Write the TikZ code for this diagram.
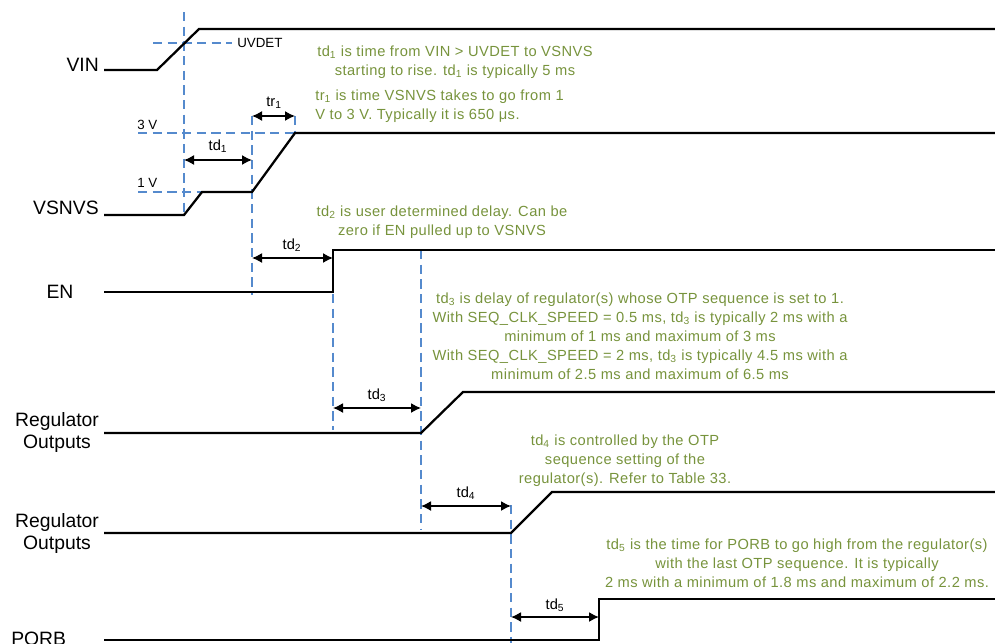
\documentclass[tikz,border=0pt]{standalone}
\usepackage{fontspec}
\setmainfont{Liberation Sans}
\newfontfamily\notefont[LetterSpace=3]{Liberation Sans}
\usetikzlibrary{arrows.meta}
\definecolor{notegreen}{RGB}{119,147,60}
\definecolor{guideblue}{RGB}{85,138,205}
\begin{document}
\begin{tikzpicture}[x=0.75pt,y=-0.75pt,
  sig/.style={line width=1.7pt,black,line join=miter},
  guide/.style={guideblue,line width=1.4pt,dash pattern=on 7pt off 4pt},
  meas/.style={{Latex[length=7.5pt,width=7.5pt]}-{Latex[length=7.5pt,width=7.5pt]},line width=1.1pt,black},
  note/.style={text=notegreen,font=\notefont\fontsize{11}{14.25}\selectfont,align=center,inner sep=0pt},
  siglabel/.style={font=\fontsize{14.5}{16.5}\selectfont,align=center,inner sep=0pt},
  tlabel/.style={font=\fontsize{11}{12}\selectfont,inner sep=0pt},
  level/.style={font=\fontsize{10}{12}\selectfont,inner sep=0pt}]
\useasboundingbox (0,0) rectangle (995,643);

% ---- guides ----
\draw[guide] (184,12) -- (184,215);
\draw[guide] (153,43) -- (232,43);
\draw[guide] (138,192) -- (252,192);
\draw[guide] (138,133) -- (295,133);
\draw[guide] (252,116) -- (252,295);
\draw[guide] (295,116) -- (295,133);
\draw[guide] (333,250) -- (333,430);
\draw[guide] (421,250) -- (421,530);
\draw[guide] (511,505) -- (511,643);

% ---- signals ----
\draw[sig] (104,70) -- (157,70) -- (199,29) -- (995,29);
\draw[sig] (104,215) -- (184,215) -- (202,192) -- (252,192) -- (295,133) -- (995,133);
\draw[sig] (104,292) -- (333,292) -- (333,250) -- (995,250);
\draw[sig] (104,433) -- (421,433) -- (463,392) -- (995,392);
\draw[sig] (104,533) -- (511,533) -- (552,492) -- (995,492);
\draw[sig] (104,640) -- (599,640) -- (599,599) -- (995,599);

% ---- signal names ----
\node[siglabel,anchor=east] (lvin) at (99,65) {VIN};
\node[siglabel,anchor=east] (lvsnvs) at (99,208) {VSNVS};
\node[siglabel] (len) at (60,292) {EN};
\node[siglabel] (lreg1) at (57,432) {Regulator\\Outputs};
\node[siglabel] (lreg2) at (57,533) {Regulator\\Outputs};
\node[siglabel,anchor=base west] (lporb) at (11,645) {PORB};

% ---- levels ----
\node[level,anchor=west] (luv) at (237,43) {UVDET};
\node[level,anchor=west] (l3v) at (137,125) {3 V};
\node[level,anchor=west] (l1v) at (137,183) {1 V};

% ---- measurement points ----
\coordinate (a1) at (184,160); \coordinate (b1) at (252,160);
\coordinate (a2) at (252,116); \coordinate (b2) at (295,116);
\coordinate (a3) at (252,258); \coordinate (b3) at (333,258);
\coordinate (a4) at (333,408); \coordinate (b4) at (421,408);
\coordinate (a5) at (421,506); \coordinate (b5) at (511,506);
\coordinate (a6) at (511,617); \coordinate (b6) at (599,617);

\draw[meas] (a1) -- (b1);
\draw[meas] (a2) -- (b2);
\draw[meas] (a3) -- (b3);
\draw[meas] (a4) -- (b4);
\draw[meas] (a5) -- (b5);
\draw[meas] (a6) -- (b6);

\node[tlabel] (ttd1) at (218,146) {td\textsubscript{1}};
\node[tlabel] (ttr1) at (274,103) {tr\textsubscript{1}};
\node[tlabel] (ttd2) at (292,245) {td\textsubscript{2}};
\node[tlabel] (ttd3) at (377,395) {td\textsubscript{3}};
\node[tlabel] (ttd4) at (466,493) {td\textsubscript{4}};
\node[tlabel] (ttd5) at (555,605) {td\textsubscript{5}};

% ---- notes ----
\node[note] (n1) at (455,62.5) {td\textsubscript{1} is time from VIN > UVDET to VSNVS\\starting to rise. td\textsubscript{1} is typically 5 ms};
\node[note,anchor=west,align=left] (n2) at (315,106) {tr\textsubscript{1} is time VSNVS takes to go from 1\\V to 3 V. Typically it is 650 μs.};
\node[note] (n3) at (442,222) {td\textsubscript{2} is user determined delay. Can be\\zero if EN pulled up to VSNVS};
\node[note] (n4) at (640,336) {td\textsubscript{3} is delay of regulator(s) whose OTP sequence is set to 1.\\With SEQ\_CLK\_SPEED = 0.5 ms, td\textsubscript{3} is typically 2 ms with a\\minimum of 1 ms and maximum of 3 ms\\With SEQ\_CLK\_SPEED = 2 ms, td\textsubscript{3} is typically 4.5 ms with a\\minimum of 2.5 ms and maximum of 6.5 ms};
\node[note] (n5) at (625,460.5) {td\textsubscript{4} is controlled by the OTP\\sequence setting of the\\regulator(s). Refer to Table 33.};
\node[note] (n6) at (797,563.5) {td\textsubscript{5} is the time for PORB to go high from the regulator(s)\\with the last OTP sequence. It is typically\\2 ms with a minimum of 1.8 ms and maximum of 2.2 ms.};
\end{tikzpicture}
\end{document}
